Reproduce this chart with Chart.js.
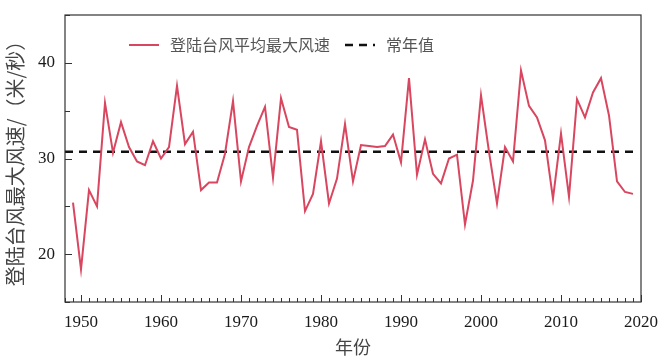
<!DOCTYPE html>
<html>
<head>
<meta charset="utf-8">
<script src="https://cdn.jsdelivr.net/npm/chart.js@4.4.1/dist/chart.umd.min.js"></script>
<style>
  body { margin: 0; background: #fff; }
  #wrap { width: 666px; height: 358px; }
</style>
</head>
<body>
<div id="wrap"><canvas id="windChart" width="666" height="358"></canvas></div>
<script>
const years = [
  1949, 1950, 1951, 1952, 1953, 1954, 1955, 1956, 1957, 1958,
  1959, 1960, 1961, 1962, 1963, 1964, 1965, 1966, 1967, 1968,
  1969, 1970, 1971, 1972, 1973, 1974, 1975, 1976, 1977, 1978,
  1979, 1980, 1981, 1982, 1983, 1984, 1985, 1986, 1987, 1988,
  1989, 1990, 1991, 1992, 1993, 1994, 1995, 1996, 1997, 1998,
  1999, 2000, 2001, 2002, 2003, 2004, 2005, 2006, 2007, 2008,
  2009, 2010, 2011, 2012, 2013, 2014, 2015, 2016, 2017, 2018,
  2019
];
const windSpeed = [
  25.4, 18.4, 26.7, 25.0, 35.8, 30.6, 33.8, 31.2, 29.7, 29.3,
  31.8, 30.0, 31.2, 37.6, 31.5, 32.8, 26.7, 27.5, 27.5, 30.5,
  36.0, 27.6, 31.2, 33.4, 35.4, 28.0, 36.3, 33.3, 33.0, 24.5,
  26.3, 31.8, 25.3, 27.9, 33.6, 27.6, 31.4, 31.3, 31.2, 31.3,
  32.5, 29.6, 38.4, 28.3, 32.0, 28.4, 27.4, 30.0, 30.4, 23.1,
  27.7, 36.6, 30.7, 25.3, 31.2, 29.7, 39.2, 35.5, 34.3, 31.9,
  25.8, 32.6, 26.0, 36.2, 34.3, 36.9, 38.4, 34.5, 27.6, 26.5,
  26.3
];
const normalValue = 30.7;
const normalSpan = [1948, 2019];
const xLabelYears = [1950, 1960, 1970, 1980, 1990, 2000, 2010, 2020];
const yLabelValues = [20, 30, 40];

const seriesName = '登陆台风平均最大风速';
const normalName = '常年值';

// box round the plot and inward tick marks
const frameTicks = {
  id: 'frameTicks',
  afterDraw(chart) {
    const {ctx, chartArea: a, scales: {x, y}} = chart;
    ctx.save();
    ctx.strokeStyle = '#333';
    ctx.lineWidth = 1.2;
    ctx.strokeRect(a.left, a.top, a.right - a.left, a.bottom - a.top);
    ctx.beginPath();
    x.ticks.forEach(t => {
      const px = Math.round(x.getPixelForValue(t.value)) + 0.5;
      const len = xLabelYears.includes(t.value) ? 7 : 4;
      ctx.moveTo(px, a.bottom);
      ctx.lineTo(px, a.bottom - len);
    });
    y.ticks.forEach(t => {
      const py = Math.round(y.getPixelForValue(t.value)) + 0.5;
      const len = yLabelValues.includes(t.value) ? 7 : 5;
      ctx.moveTo(a.left, py);
      ctx.lineTo(a.left + len, py);
    });
    ctx.lineWidth = 1;
    ctx.stroke();
    ctx.restore();
  }
};

// legend inside the plot, one row
const innerLegend = {
  id: 'innerLegend',
  afterDraw(chart) {
    const {ctx, chartArea: a} = chart;
    const rowY = a.top + 30;
    let xPos = a.left + 64;
    ctx.save();
    ctx.font = '16px "Noto Sans CJK SC"';
    ctx.textBaseline = 'middle';
    chart.data.datasets.forEach(ds => {
      ctx.beginPath();
      ctx.strokeStyle = ds.borderColor;
      ctx.lineWidth = ds.borderWidth;
      ctx.setLineDash(ds.borderDash || []);
      ctx.moveTo(xPos, rowY);
      ctx.lineTo(xPos + 30, rowY);
      ctx.stroke();
      ctx.setLineDash([]);
      xPos += 41;
      ctx.fillStyle = '#555';
      ctx.fillText(ds.label, xPos, rowY);
      xPos += ctx.measureText(ds.label).width + 15;
    });
    ctx.restore();
  }
};

new Chart(document.getElementById('windChart'), {
  type: 'line',
  data: {
    datasets: [
      {
        label: seriesName,
        data: years.map((yr, i) => ({x: yr, y: windSpeed[i]})),
        borderColor: '#d8465f',
        borderWidth: 2,
        pointRadius: 0,
        tension: 0,
        fill: false
      },
      {
        label: normalName,
        data: normalSpan.map(yr => ({x: yr, y: normalValue})),
        borderColor: '#111',
        borderWidth: 2.5,
        borderDash: [8, 6],
        pointRadius: 0,
        fill: false
      }
    ]
  },
  options: {
    responsive: false,
    animation: false,
    devicePixelRatio: 1,
    layout: {padding: {top: 15, right: 25, bottom: 0, left: 0}},
    plugins: {
      legend: {display: false},
      tooltip: {enabled: false}
    },
    scales: {
      x: {
        type: 'linear',
        min: 1948,
        max: 2020,
        grid: {display: false, drawTicks: false},
        border: {display: false},
        ticks: {
          stepSize: 1,
          autoSkip: false,
          maxRotation: 0,
          padding: 10,
          color: '#1a1a1a',
          font: {family: '"Liberation Serif", serif', size: 17},
          callback: v => xLabelYears.includes(v) ? String(v) : ''
        },
        title: {
          display: true,
          text: '年份',
          color: '#444',
          font: {family: '"Noto Sans CJK SC"', size: 18},
          padding: {top: 8, bottom: 0}
        },
        afterFit: s => {
          s.height = 56;
          s.paddingLeft = 0;
          s.paddingRight = 0;
        }
      },
      y: {
        min: 15,
        max: 45,
        grid: {display: false, drawTicks: false},
        border: {display: false},
        ticks: {
          stepSize: 5,
          padding: 10,
          color: '#1a1a1a',
          font: {family: '"Liberation Serif", serif', size: 17},
          callback: v => yLabelValues.includes(v) ? String(v) : ''
        },
        title: {
          display: true,
          text: '登陆台风最大风速/（米/秒）',
          color: '#444',
          font: {family: '"Noto Sans CJK SC"', size: 20},
          padding: {top: 3, bottom: 0}
        },
        afterFit: s => {
          s.width = 65;
          s.paddingTop = 0;
          s.paddingBottom = 0;
        }
      }
    }
  },
  plugins: [frameTicks, innerLegend]
});
</script>
</body>
</html>
